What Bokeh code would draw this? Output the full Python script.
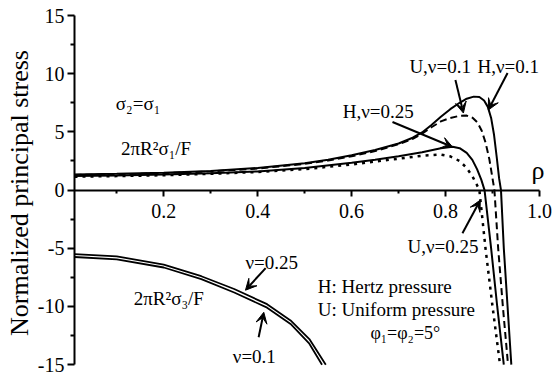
from bokeh.plotting import figure
from bokeh.models import Range1d, FixedTicker, Label, Arrow, VeeHead, PrintfTickFormatter, LinearAxis
from bokeh.embed import file_html
from bokeh.resources import INLINE

# ---- data ----
rho_H01 = [0.01, 0.1, 0.2, 0.3, 0.4, 0.5, 0.55, 0.6, 0.65, 0.7, 0.73, 0.75, 0.77, 0.79, 0.81,
           0.83, 0.845, 0.86, 0.872, 0.882, 0.89, 0.897, 0.903, 0.909, 0.914, 0.918, 0.924, 0.932, 0.94]
s1_H01 = [1.35, 1.4, 1.5, 1.65, 1.9, 2.3, 2.6, 3.0, 3.45, 4.0, 4.5, 4.95, 5.6, 6.3, 6.95,
          7.5, 7.85, 8.03, 8.0, 7.7, 7.15, 6.2, 4.8, 2.8, 1.0, 0.0, -5.0, -10.0, -15.0]

rho_U01 = [0.01, 0.1, 0.2, 0.3, 0.4, 0.5, 0.55, 0.6, 0.65, 0.7, 0.73, 0.75, 0.77, 0.79, 0.81,
           0.83, 0.845, 0.858, 0.868, 0.877, 0.885, 0.893, 0.9, 0.904, 0.912, 0.922, 0.933]
s1_U01 = [1.3, 1.35, 1.45, 1.6, 1.85, 2.25, 2.55, 2.9, 3.35, 3.95, 4.4, 4.85, 5.4, 5.9, 6.2,
          6.38, 6.4, 6.2, 5.8, 5.1, 4.1, 2.7, 1.0, 0.0, -5.0, -10.0, -15.0]

rho_H025 = [0.01, 0.1, 0.2, 0.3, 0.4, 0.5, 0.6, 0.65, 0.7, 0.75, 0.79, 0.815, 0.83, 0.845,
            0.857, 0.867, 0.876, 0.883, 0.897, 0.91, 0.924]
s1_H025 = [1.2, 1.25, 1.33, 1.45, 1.6, 1.9, 2.35, 2.6, 2.9, 3.25, 3.6, 3.72, 3.6, 3.2,
           2.6, 1.8, 0.9, 0.0, -5.0, -10.0, -15.0]

rho_U025 = [0.01, 0.1, 0.2, 0.3, 0.4, 0.5, 0.6, 0.65, 0.7, 0.75, 0.79, 0.81, 0.83, 0.845,
            0.857, 0.866, 0.872, 0.885, 0.9, 0.916]
s1_U025 = [1.15, 1.2, 1.28, 1.4, 1.55, 1.8, 2.2, 2.45, 2.7, 2.95, 3.05, 2.9, 2.5, 1.9,
           1.2, 0.5, 0.0, -5.0, -10.0, -15.0]

rho_s3_025 = [0.01, 0.1, 0.2, 0.28, 0.35, 0.42, 0.47, 0.51, 0.545]
s3_025 = [-5.5, -5.7, -6.4, -7.4, -8.5, -9.8, -11.2, -12.8, -15.0]
rho_s3_01 = [0.01, 0.1, 0.2, 0.28, 0.35, 0.42, 0.47, 0.51, 0.537]
s3_01 = [-5.75, -5.95, -6.65, -7.65, -8.8, -10.1, -11.5, -13.2, -15.0]

x_ticks = [0.2, 0.4, 0.6, 0.8, 1.0]
x_minor = [0.1, 0.3, 0.5, 0.7, 0.9]
y_ticks = [-15, -10, -5, 0, 5, 10, 15]
y_minor = [-12.5, -7.5, -2.5, 2.5, 7.5, 12.5]

FONT = "'Liberation Serif', 'Times New Roman', serif"

p = figure(width=553, height=376, x_range=Range1d(0.01, 1.0298), y_range=Range1d(-15.5, 15),
           output_backend="svg", toolbar_location=None, x_axis_location=None,
           min_border_left=74, min_border_right=0, min_border_top=15, min_border_bottom=6)
p.outline_line_color = None
p.xgrid.visible = False
p.ygrid.visible = False

# y axis
ya = p.yaxis[0]
ya.bounds = (-15, 15)
ya.ticker = FixedTicker(ticks=y_ticks, minor_ticks=y_minor)
ya.formatter = PrintfTickFormatter(format="%d")
ya.axis_label = "Normalized principal stress"
ya.axis_label_text_font = FONT
ya.axis_label_text_font_size = "26px"
ya.axis_label_text_font_style = "normal"
ya.axis_label_standoff = 1
ya.major_label_text_font = FONT
ya.major_label_text_font_size = "20px"
ya.major_label_standoff = 3
ya.axis_line_width = 2
ya.major_tick_line_width = 2
ya.minor_tick_line_width = 2
ya.major_tick_out = 7
ya.major_tick_in = 0
ya.minor_tick_out = 4
ya.minor_tick_in = 0
ya.axis_line_color = "black"
ya.major_tick_line_color = "black"
ya.minor_tick_line_color = "black"
ya.major_label_text_color = "black"
ya.axis_label_text_color = "black"

# x axis crossing at y = 0
xa = LinearAxis(fixed_location=0)
xa.bounds = (0.01, 1.0)
xa.ticker = FixedTicker(ticks=x_ticks, minor_ticks=x_minor)
xa.formatter = PrintfTickFormatter(format="%.1f")
xa.major_label_text_font = FONT
xa.major_label_text_font_size = "20px"
xa.major_label_standoff = 8
xa.axis_line_width = 2
xa.major_tick_line_width = 2
xa.minor_tick_line_width = 2
xa.major_tick_out = 6
xa.major_tick_in = 0
xa.minor_tick_out = 3
xa.minor_tick_in = 0
xa.axis_line_color = "black"
xa.major_tick_line_color = "black"
xa.minor_tick_line_color = "black"
xa.major_label_text_color = "black"
p.add_layout(xa, "below")

# curves
p.line(rho_H01, s1_H01, line_color="black", line_width=2)
p.line(rho_U01, s1_U01, line_color="black", line_width=2, line_dash="7 4")
p.line(rho_H025, s1_H025, line_color="black", line_width=2)
p.line(rho_U025, s1_U025, line_color="black", line_width=2.5, line_dash="3 5")
p.line(rho_s3_025, s3_025, line_color="black", line_width=1.8)
p.line(rho_s3_01, s3_01, line_color="black", line_width=1.8)

def lab(x, y, t, size="19px", align="left"):
    p.add_layout(Label(x=x, y=y, text=t, text_font=FONT, text_font_size=size,
                       text_baseline="alphabetic", text_align=align, text_color="black"))

lab(0.983, 1.7, "ρ", size="26px")
lab(0.723, 10.58, "U,ν=0.1")
lab(0.868, 10.58, "H,ν=0.1")
lab(0.581, 6.79, "H,ν=0.25")
lab(0.719, -4.82, "U,ν=0.25")
lab(0.528, -8.3, "H: Hertz pressure")
lab(0.528, -10.29, "U: Uniform pressure")
lab(0.64, -12.3, "φ₁=φ₂=5°", size="18px")
lab(0.374, -6.19, "ν=0.25")
lab(0.347, -14.27, "ν=0.1")
lab(0.136, -9.29, "2πR²σ₃/F")
lab(0.098, 7.4, "σ₂=σ₁")
lab(0.109, 3.6, "2πR²σ₁/F")

def arrow(x0, y0, x1, y1):
    p.add_layout(Arrow(end=VeeHead(size=11, fill_color="black", line_color="black", line_width=1),
                       x_start=x0, y_start=y0, x_end=x1, y_end=y1,
                       line_color="black", line_width=2))

arrow(0.821, 9.46, 0.838, 6.62)
arrow(0.932, 10.06, 0.891, 6.88)
arrow(0.687, 5.85, 0.815, 3.70)
arrow(0.836, -3.7, 0.874, -0.86)
arrow(0.417, -6.7, 0.374, -8.6)
arrow(0.402, -12.64, 0.413, -10.5)

open("out.html", "w").write(file_html(p, INLINE))
